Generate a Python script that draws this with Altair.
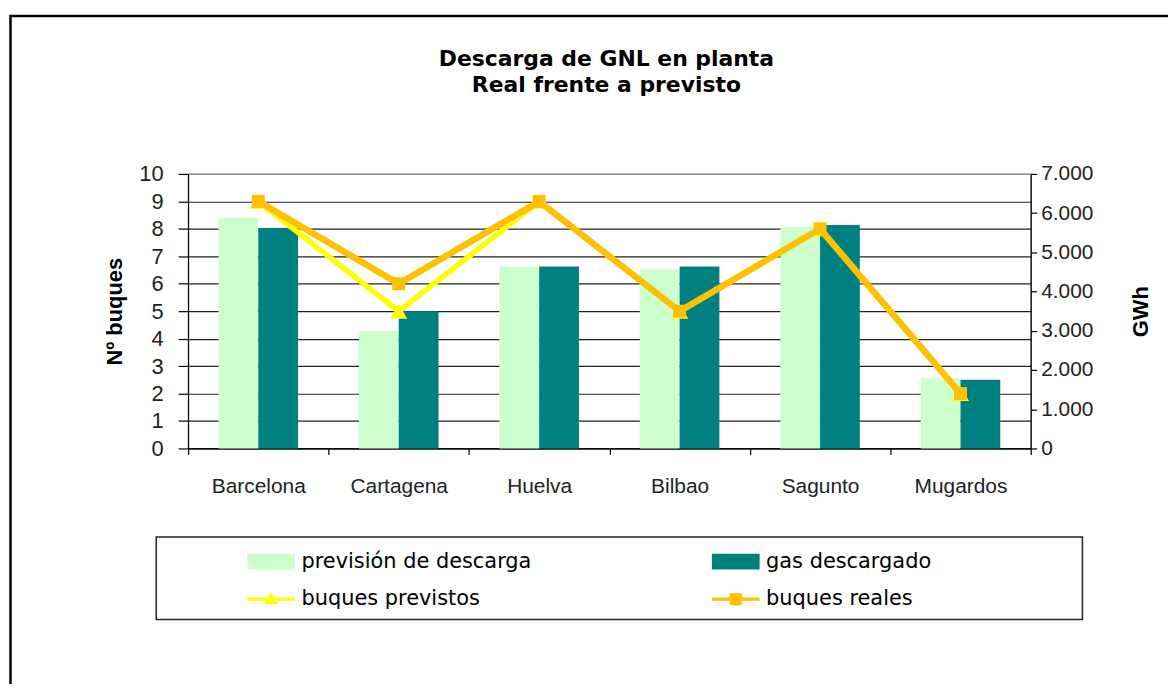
import altair as alt
import pandas as pd

plantas = ["Barcelona", "Cartagena", "Huelva", "Bilbao", "Sagunto", "Mugardos"]
prevision_descarga = [5880, 3000, 4640, 4560, 5660, 1790]
gas_descargado = [5620, 3500, 4640, 4640, 5700, 1750]
buques_previstos = [9, 5, 9, 5, 8, 2]
buques_reales = [9, 6, 9, 5, 8, 2]
series = ["previsión de descarga", "gas descargado", "buques previstos", "buques reales"]
colores = ["#CCFFCC", "#008080", "#FFFF00", "#FFC000"]
gwh_ticks = [0, 1000, 2000, 3000, 4000, 5000, 6000, 7000]
buques_ticks = [0, 1, 2, 3, 4, 5, 6, 7, 8, 9, 10]

bars_df = pd.DataFrame(
    [{"planta": p, "serie": series[0], "gwh": v} for p, v in zip(plantas, prevision_descarga)]
    + [{"planta": p, "serie": series[1], "gwh": v} for p, v in zip(plantas, gas_descargado)]
)
lines_df = pd.DataFrame(
    [{"planta": p, "serie": series[2], "buques": v} for p, v in zip(plantas, buques_previstos)]
    + [{"planta": p, "serie": series[3], "buques": v} for p, v in zip(plantas, buques_reales)]
)

LABEL_FONT = "Liberation Sans"

x_enc = alt.X(
    "planta:N", sort=plantas,
    scale=alt.Scale(paddingInner=0, paddingOuter=0),
    axis=alt.Axis(title=None, labelAngle=0, tickBand="extent", tickSize=6,
                  labelFont=LABEL_FONT, labelFontSize=21, labelColor="#222222",
                  labelPadding=21, domainColor="black", tickColor="black",
                  domainWidth=1.2, tickWidth=1.2, grid=False),
)

color_scale = alt.Scale(domain=series, range=colores)

legend_paths = [
    "M-3,-1H3V1H-3Z",
    "M-3,-1H3V1H-3Z",
    "M-3,-0.2H3V0.2H-3Z M0,-0.9L0.9,0.65H-0.9Z",
    "M-3,-0.2H3V0.2H-3Z M-0.75,-0.75H0.75V0.75H-0.75Z",
]

legend_obj = alt.Legend(
    title=None, orient="none", legendX=73, legendY=379, columns=2, direction="horizontal",
    columnPadding=180, rowPadding=16, labelFont="DejaVu Sans", labelFontSize=21,
    labelColor="black", labelLimit=500, symbolSize=256, labelOffset=20,
    padding=0, symbolStrokeWidth=0,
)

legend_layer = alt.Chart(alt.Data(values=[{"serie": s} for s in series])).transform_filter(
    "false"
).mark_point(filled=True, opacity=1).encode(
    color=alt.Color("serie:N", scale=color_scale, legend=legend_obj),
    shape=alt.Shape("serie:N", scale=alt.Scale(domain=series, range=legend_paths), legend=legend_obj),
)

bars = alt.Chart(bars_df).mark_bar(opacity=1).encode(
    x=x_enc,
    xOffset=alt.XOffset("serie:N", sort=series[:2],
                        scale=alt.Scale(domain=series[:2], paddingOuter=0.765, paddingInner=0)),
    y=alt.Y("gwh:Q", scale=alt.Scale(domain=[0, 7000], nice=False),
            axis=alt.Axis(orient="right", values=gwh_ticks, grid=False,
                          labelExpr="replace(format(datum.value, ','), ',', '.')",
                          title="GWh", titleAngle=270, titleFont=LABEL_FONT,
                          titleFontSize=22, titleFontWeight="bold", titleColor="black",
                          titlePadding=60, labelFont=LABEL_FONT, labelFontSize=21,
                          labelColor="#222222", labelPadding=4, tickSize=6,
                          domainColor="black", tickColor="black", domainWidth=1.2,
                          tickWidth=1.2)),
    color=alt.Color("serie:N", scale=color_scale, legend=legend_obj),
)

y_buques = alt.Y(
    "buques:Q", scale=alt.Scale(domain=[0, 10], nice=False),
    axis=alt.Axis(orient="left", values=buques_ticks, grid=True,
                  gridColor={"condition": {"test": "datum.value === 10", "value": "#909090"},
                             "value": "#222222"},
                  gridWidth=1.2, title="Nº buques", titleFont=LABEL_FONT,
                  titleFontSize=22, titleFontWeight="bold", titleColor="black",
                  titlePadding=12, labelFont=LABEL_FONT, labelFontSize=22,
                  labelColor="#222222", labelPadding=15, tickSize=10,
                  domainColor="black", tickColor="black", domainWidth=1.2, tickWidth=1.2),
)

line_prev = alt.Chart(lines_df).transform_filter(alt.datum.serie == series[2]).mark_line(
    color=colores[2], strokeWidth=5.5).encode(x=x_enc, y=y_buques)
pts_prev = alt.Chart(lines_df).transform_filter(alt.datum.serie == series[2]).mark_point(
    filled=True, shape="triangle-up", size=300, opacity=1, color=colores[2]).encode(x=x_enc, y=y_buques)
line_real = alt.Chart(lines_df).transform_filter(alt.datum.serie == series[3]).mark_line(
    color=colores[3], strokeWidth=6.5).encode(x=x_enc, y=y_buques)
pts_real = alt.Chart(lines_df).transform_filter(alt.datum.serie == series[3]).mark_point(
    filled=True, shape="square", size=170, opacity=1, color=colores[3]).encode(x=x_enc, y=y_buques)

inner = alt.layer(line_prev, pts_prev, line_real, pts_real)

legend_box = alt.Chart(alt.Data(values=[{}])).mark_rect(
    fill="white", fillOpacity=0, stroke="#222222", strokeWidth=1.5).encode(
    x=alt.value(-32), x2=alt.value(899), y=alt.value(365), y2=alt.value(448))

frame = alt.Chart(alt.Data(values=[{}])).mark_rect(
    fill="white", fillOpacity=0, stroke="black", strokeWidth=2.5).encode(
    x=alt.value(-178.5), x2=alt.value(1300), y=alt.value(-158.7), y2=alt.value(900))

chart = alt.layer(legend_layer, bars, inner, legend_box, frame).resolve_scale(
    y="independent"
).properties(
    width=847, height=276,
    title=alt.TitleParams(
        text=["Descarga de GNL en planta", "Real frente a previsto"],
        font="DejaVu Sans", fontSize=22, fontWeight="bold", color="black",
        anchor="middle", lineHeight=27, offset=-83, dx=-3,
    ),
    padding={"left": 181, "top": 165, "right": 138, "bottom": 235},
    autosize=alt.AutoSizeParams(type="none"),
).configure_view(stroke="#909090", strokeWidth=1.2)

chart.save("out.html", embed_options={"renderer": "svg", "actions": False})
